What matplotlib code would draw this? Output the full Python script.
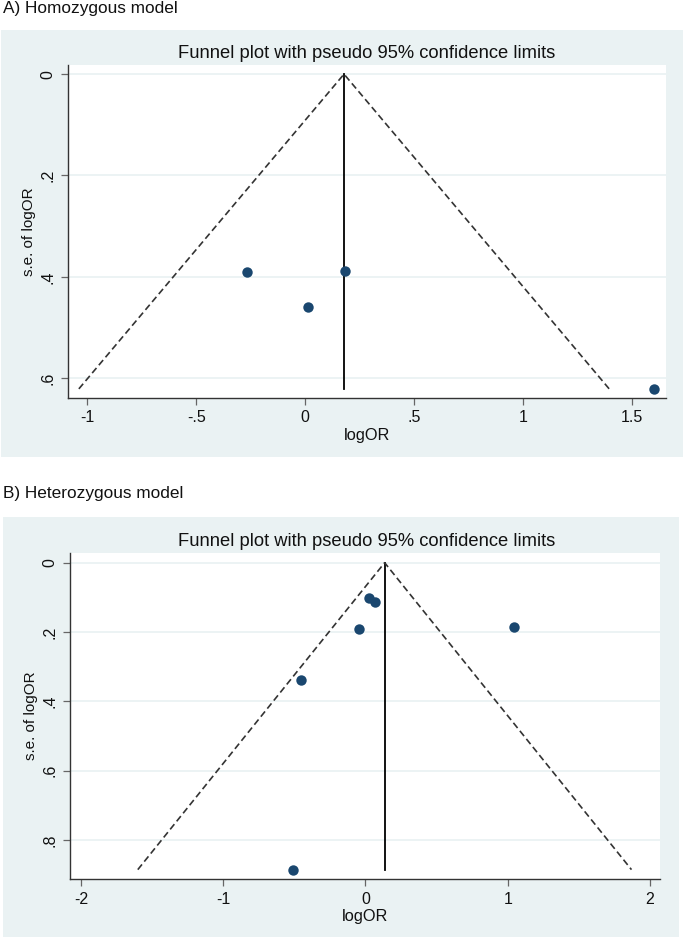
import matplotlib
matplotlib.use("Agg")
import matplotlib.pyplot as plt
from matplotlib.patches import Rectangle
import numpy as np

plt.rcParams['font.family'] = ['Liberation Sans', 'DejaVu Sans']

# ---- data ----
panel_titles = ["A) Homozygous model", "B) Heterozygous model"]
plot_title = "Funnel plot with pseudo 95% confidence limits"

hom_logor = [-0.268, 0.183, 0.012, 1.601]
hom_se = [0.391, 0.388, 0.459, 0.621]
hom_pooled = 0.178
hom_xticks = [-1, -0.5, 0, 0.5, 1, 1.5]
hom_xticklabels = ["-1", "-.5", "0", ".5", "1", "1.5"]
hom_yticks = [0, 0.2, 0.4, 0.6]
hom_yticklabels = ["0", ".2", ".4", ".6"]

het_logor = [0.022, 0.067, -0.043, 1.041, -0.454, -0.509]
het_se = [0.101, 0.114, 0.190, 0.184, 0.337, 0.885]
het_pooled = 0.135
het_xticks = [-2, -1, 0, 1, 2]
het_xticklabels = ["-2", "-1", "0", "1", "2"]
het_yticks = [0, 0.2, 0.4, 0.6, 0.8]
het_yticklabels = ["0", ".2", ".4", ".6", ".8"]

W, H = 685, 938
BG = "#eaf2f3"
MARK = "#1a476f"
GRID = "#eaf2f3"
AX = "#333333"

fig = plt.figure(figsize=(W / 100, H / 100), dpi=100)
fig.patch.set_facecolor("white")


def fx(px):
    return px / W


def fy(py):
    return 1 - py / H


def panel(box, axbox, head_y, title_y, title_x, logor, se, pooled,
          xticks, xticklabels, yticks, yticklabels, xlim, ylim, heading):
    x0, y0, x1, y1 = box
    fig.patches.append(Rectangle((fx(x0), fy(y1)), fx(x1 - x0), (y1 - y0) / H,
                                 transform=fig.transFigure, facecolor=BG,
                                 edgecolor="none", zorder=-10))
    fig.text(fx(3), fy(head_y), heading, fontsize=12.4, va="center", ha="left",
             color="#111111")
    fig.text(fx(title_x), fy(title_y), plot_title, fontsize=13.2, va="center",
             ha="center", color="#111111")
    ax0, ay0, ax1, ay1 = axbox
    ax = fig.add_axes([fx(ax0), fy(ay1), fx(ax1 - ax0), (ay1 - ay0) / H])
    ax.set_zorder(5)
    ax.set_facecolor("white")
    ax.set_xlim(*xlim)
    ax.set_ylim(*ylim)
    for s in ["top", "right"]:
        ax.spines[s].set_visible(False)
    for s in ["left", "bottom"]:
        ax.spines[s].set_color(AX)
        ax.spines[s].set_linewidth(1.0)
    ax.set_xticks(xticks)
    ax.set_xticklabels(xticklabels)
    ax.set_yticks(yticks)
    ax.set_yticklabels(yticklabels, rotation=90, va="center")
    ax.tick_params(axis="both", length=5, width=0.9, color="#666666",
                   labelsize=11.5, labelcolor="#111111", pad=4)
    for t in yticks:
        ax.axhline(t, color=GRID, lw=1.3, zorder=1)
    semax = max(se)
    ax.plot([pooled, pooled], [0, semax], color="black", lw=1.3, zorder=2)
    ax.plot([pooled - 1.96 * semax, pooled, pooled + 1.96 * semax],
            [semax, 0, semax], color="#333333", lw=1.2,
            linestyle=(0, (4.0, 2.2)), zorder=2)
    ax.plot(logor, se, "o", color=MARK, markersize=7.5, markeredgewidth=0,
            zorder=3)
    ax.set_xlabel("logOR", fontsize=11.8, labelpad=2, color="#111111")
    ax.set_ylabel("s.e. of logOR", fontsize=11, labelpad=3, color="#111111")
    return ax


panel((1, 30, 683, 457), (68, 65, 666, 398), 9, 54, 367,
      hom_logor, hom_se, hom_pooled, hom_xticks, hom_xticklabels,
      hom_yticks, hom_yticklabels, (-1.089, 1.656), (0.639, -0.018),
      panel_titles[0])

panel((3, 517, 679, 937), (70, 553, 660, 879), 493, 542, 367,
      het_logor, het_se, het_pooled, het_xticks, het_xticklabels,
      het_yticks, het_yticklabels, (-2.076, 2.07), (0.912, -0.028),
      panel_titles[1])

fig.savefig("out.png", dpi=100)
